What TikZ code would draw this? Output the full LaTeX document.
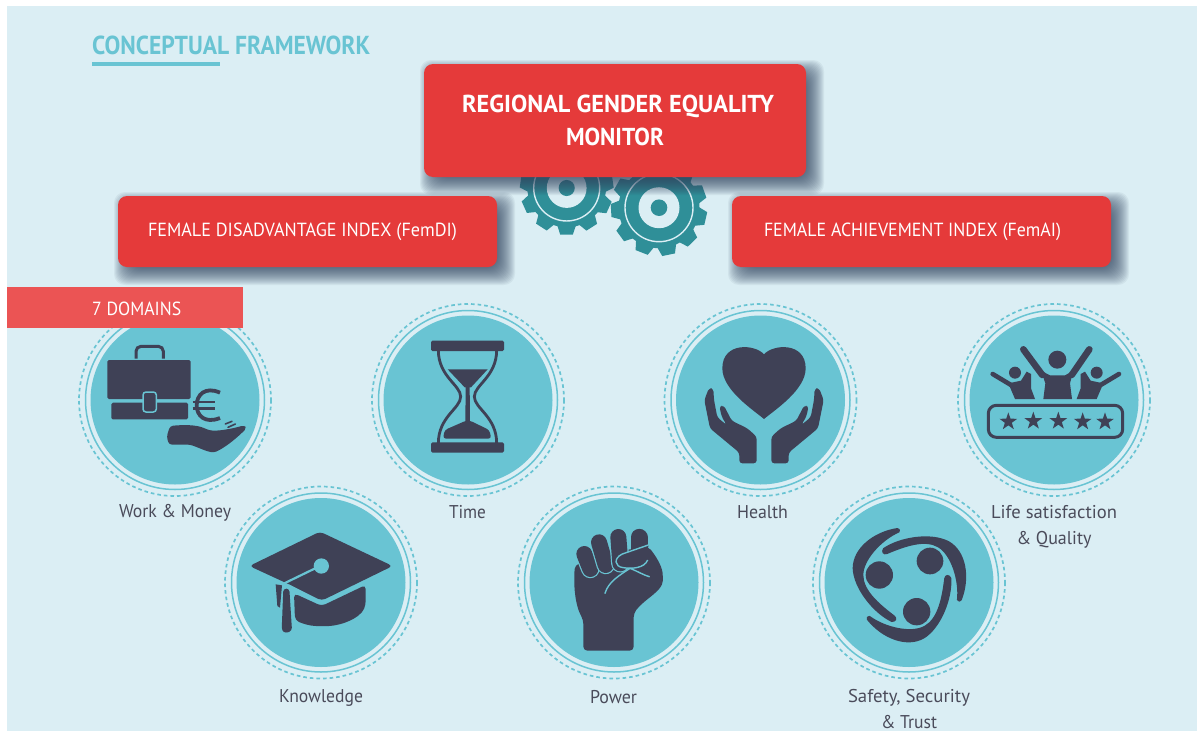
\documentclass[tikz,border=0pt]{standalone}
\usepackage{fontspec}
\usepackage{graphicx}
\setmainfont{PT Sans}
\usetikzlibrary{calc}
\definecolor{bgblue}{HTML}{DBEEF4}
\definecolor{teal1}{HTML}{69C4D3}
\definecolor{gearc}{HTML}{2F8F98}
\definecolor{redc}{HTML}{E53A3A}
\definecolor{redl}{HTML}{EB5454}
\definecolor{dark}{HTML}{3F4156}
\definecolor{labelc}{HTML}{4A4B5A}
\definecolor{shadowc}{HTML}{2E3F5C}
% fit a text line to a width given in px, keeping its height
\newcommand{\fitw}[2]{\setbox0=\hbox{#2}\pgfmathsetmacro{\fitr}{#1/\the\wd0}\scalebox{\fitr}[1]{\box0}}
\tikzset{
  redbox/.style={fill=redc,rounded corners=9pt,inner sep=0pt,text=white,align=center,font=\fontsize{19}{33}\selectfont},
  mainbox/.style={redbox,font=\fontsize{24.5}{33}\selectfont\bfseries},
  caption/.style={text=labelc,inner sep=0pt,align=center,font=\fontsize{18.5}{26}\selectfont},
  icon/.style={fill=dark,draw=none},
  ringdash/.style={draw=teal1,line width=1.7pt,dash pattern=on 3.6pt off 3pt},
  ringthin/.style={draw=teal1,line width=1.5pt},
  disc/.style={fill=teal1,draw=none},
  gearbody/.style={fill=gearc,draw=none}
}
\newcommand{\softshadow}[4]{%
  \foreach \d in {11,10,...,-6}{%
    \fill[shadowc,fill opacity=.062,rounded corners=11pt]
      ({#1+7-\d},{#2+7-\d}) rectangle ({#3+7+\d},{#4+7+\d});}}
\newcommand{\domaindisc}[2]{%
  \draw[ringdash] (#1,#2) circle[radius=96];
  \draw[ringthin] (#1,#2) circle[radius=89.5];
  \fill[disc] (#1,#2) circle[radius=84.5];}
\newcommand{\gearshape}[4]{% cx cy scale phase
  \begin{scope}[shift={(#1,#2)},scale=#3]
    \fill[gearbody] (0,0) circle[radius=40.5];
    \foreach \k in {0,...,10}{%
      \fill[gearbody,rotate=#4+\k*32.727] (39,-9.5) -- (48,-6.5) -- (48,6.5) -- (39,9.5) -- cycle;}
    \draw[draw=bgblue,line width=1.4pt] (0,0) circle[radius=34];
    \fill[bgblue] (0,0) circle[radius=20.5];
    \fill[gearbody] (0,0) circle[radius=8.3];
  \end{scope}}
% a finger: dark stroke with a teal edge, from #1 to #2
\newcommand{\fingerline}[2]{%
  \draw[teal1,line width=18.4pt,line cap=round] #1 -- #2;
  \draw[dark,line width=16pt,line cap=round] #1 -- #2;}
\begin{document}
\begin{tikzpicture}[x=1pt,y=-1pt]
\useasboundingbox (0,0) rectangle (1197,731);
\fill[white] (0,0) rectangle (1197,731);
\fill[bgblue] (7,6) rectangle (1197,731);

% title
\node[anchor=base west,inner sep=0pt,text=teal1,font=\fontsize{26}{30}\selectfont\bfseries] (title) at (92,54) {\fitw{278}{CONCEPTUAL FRAMEWORK}};
\coordinate (ruleA) at (92,64);
\coordinate (ruleB) at (220,64);
\draw[teal1,line width=3.6pt] (ruleA) -- (ruleB);

% gears
\gearshape{566.7}{188}{0.97}{8}
\gearshape{659}{207.7}{1}{-13}

% red boxes
\softshadow{424}{64}{806}{177}
\softshadow{118}{196}{497}{267}
\softshadow{732}{196}{1111}{267}
\node[mainbox,minimum width=382pt,minimum height=113pt] (main) at (615,120.5)
  {\raisebox{1pt}{\hspace*{6pt}\fitw{312}{REGIONAL GENDER EQUALITY}}\\\raisebox{1pt}{\fitw{98}{MONITOR}}};
\node[redbox,minimum width=379pt,minimum height=71pt] (femdi) at (307.5,231.5)
  {\hspace*{-10pt}\fitw{309}{FEMALE DISADVANTAGE INDEX (FemDI)}};
\node[redbox,minimum width=379pt,minimum height=71pt] (femai) at (921.5,231.5)
  {\hspace*{-18pt}\fitw{297}{FEMALE ACHIEVEMENT INDEX (FemAI)}};

% discs
\domaindisc{175}{400}
\domaindisc{321}{582.5}
\domaindisc{468}{400}
\domaindisc{614}{582.5}
\domaindisc{760.5}{400}
\domaindisc{909}{582.5}
\domaindisc{1054}{400}

% band
\node[fill=redl,inner sep=0pt,minimum width=236pt,minimum height=41pt,anchor=north west] (band) at (7,287) {};
\node[anchor=west,inner sep=0pt,text=white,font=\fontsize{19}{22}\selectfont] (bandtext) at (92,308.5) {\fitw{89}{7 DOMAINS}};

% Work & Money icon
\begin{scope}[shift={(70,300)},scale=1/3]
  \draw[dark,line width=3pt,rounded corners=5pt] (198,176) -- (198,139) -- (280,139) -- (280,176);
  \fill[icon,rounded corners=1.5pt] (112,180) rectangle (362,297);
  \fill[icon,rounded corners=1.5pt] (124,308) rectangle (354,358);
  \draw[fill=dark,draw=teal1,line width=1.5pt,rounded corners=3pt] (219,276) rectangle (259,336);
  \draw[dark,line width=3.8pt] (450,278) .. controls (405,258) and (380,285) .. (380,316)
    .. controls (380,347) and (405,372) .. (450,354);
  \draw[dark,line width=2.6pt] (368,306) -- (436,306) (368,326) -- (436,326);
  \fill[icon,rounded corners=3pt] (300,378) .. controls (340,374) and (380,374) .. (410,388)
    .. controls (440,396) and (490,385) .. (522,376) -- (530,384)
    .. controls (505,410) and (470,440) .. (432,458)
    .. controls (400,452) and (370,434) .. (345,434) -- (297,434) -- (290,410) -- cycle;
  \draw[dark,line width=1.6pt,line cap=round] (466,372) -- (486,364) (474,382) -- (496,372);
\end{scope}

% Knowledge icon
\begin{scope}[shift={(220,480)},scale=1/3]
  \fill[icon,rounded corners=4pt] (222,340) -- (305,378) -- (437,315) -- (437,375)
    .. controls (420,415) and (360,440) .. (300,438) .. controls (270,438) and (245,430) .. (225,420) -- cycle;
  \fill[icon,rounded corners=4pt] (88,258) -- (300,155) -- (518,258) -- (305,362) -- (205,312) -- (192,306) -- cycle;
  \draw[teal1,line width=2.2pt] (193,310) -- (300,258);
  \fill[teal1] (304,258) circle[radius=23];
  \draw[teal1,line width=1.5pt] (205,315) -- (300,366) -- (310,366) -- (440,305);
  \fill[icon,rounded corners=3pt] (190,326) -- (208,326) -- (216,452) -- (198,460) -- (185,452) -- cycle;
  \fill[icon] (167,313) -- (186,316) -- (180,383) -- (172,378) -- cycle;
\end{scope}

% Time icon
\begin{scope}[shift={(370,300)},scale=1/3]
  \fill[icon,rounded corners=1.5pt] (183,122) rectangle (402,153);
  \fill[icon,rounded corners=1.5pt] (183,427) rectangle (402,458);
  \draw[dark,line width=2.8pt] (205,150) .. controls (205,230) and (272,255) .. (272,290)
    .. controls (272,325) and (205,350) .. (205,430);
  \draw[dark,line width=2.8pt] (380,150) .. controls (380,230) and (313,255) .. (313,290)
    .. controls (313,325) and (380,350) .. (380,430);
  \fill[icon] (233,208) -- (353,208) -- (303,262) -- (284,262) -- cycle;
  \fill[icon] (287,260) -- (299,260) -- (300,370) -- (286,370) -- cycle;
  \fill[icon,rounded corners=3pt] (219,416) -- (224,390) -- (288,362) -- (300,362) -- (358,390) -- (364,416) -- cycle;
\end{scope}

% Power icon
\begin{scope}[shift={(515,485)},scale=1/3]
  \fill[icon,rounded corners=4pt] (180,240) .. controls (175,300) and (180,360) .. (205,405)
    -- (205,497) -- (356,497) -- (356,385) .. controls (390,340) and (442,320) .. (444,275)
    .. controls (440,240) and (420,210) .. (400,185) -- (300,200) -- cycle;
  \fingerline{(208,207)}{(226,252)}
  \fingerline{(252,172)}{(272,240)}
  \fingerline{(310,156)}{(316,235)}
  \draw[dark,line width=17pt,line cap=round] (372,157) -- (372,195);
  \draw[icon,draw=teal1,line width=1.4pt] (400,180) -- (322,207)
    .. controls (295,220) and (298,245) .. (325,248)
    .. controls (350,252) and (388,250) .. (398,225);
  \draw[teal1,line width=1.4pt,line cap=round] (270,325) .. controls (280,290) and (315,270) .. (345,250);
  \draw[teal1,line width=1.4pt,line cap=round] (345,250) .. controls (370,260) and (385,270) .. (403,275);
\end{scope}

% Health icon
\begin{scope}[shift={(660,300)},scale=1/3]
  \fill[icon] (312,163) .. controls (285,132) and (187,125) .. (187,205)
    .. controls (187,270) and (280,330) .. (312,357)
    .. controls (344,330) and (437,270) .. (437,205)
    .. controls (437,125) and (339,132) .. (312,163) -- cycle;
  \foreach \mirror/\xoff in {1/0,-1/624}{%
    \begin{scope}[shift={(\xoff,0)},xscale=\mirror]
      \fill[icon,rounded corners=3pt] (147,264) -- (133,300) -- (150,385) -- (238,458) -- (238,490)
        -- (290,490) -- (290,410) -- (262,385) -- (215,362) -- (192,317) -- (178,318)
        -- (185,350) -- (200,375) -- (172,352) -- (162,300) -- (160,266) -- cycle;
    \end{scope}}
\end{scope}

% Safety icon
\begin{scope}[shift={(810,485)},scale=1/3]
  \foreach \ang in {0,-120,120}{%
    \begin{scope}[rotate around={\ang:(296,293)}]
      \fill[icon] (262,129) .. controls (190,140) and (128,190) .. (128,250)
        .. controls (130,310) and (190,385) .. (245,411)
        .. controls (258,412) and (264,400) .. (254,392)
        .. controls (205,355) and (160,315) .. (160,270)
        .. controls (160,225) and (215,165) .. (268,142)
        .. controls (272,134) and (268,128) .. (262,129) -- cycle;
    \end{scope}}
  \fill[icon] (208,270) circle[radius=41];
  \fill[icon] (360,228) circle[radius=40];
  \fill[icon] (320,380) circle[radius=41];
\end{scope}

% Life satisfaction icon
\begin{scope}[shift={(955,300)},scale=1/3]
  \draw[dark,line width=3pt,rounded corners=8pt] (100,316) rectangle (503,412);
  \foreach \sx/\sy in {160/365,235/363,310/363,383/365,450/365}{%
    \fill[icon,shift={(\sx,\sy)}] (270:28) -- (306:11) -- (342:28) -- (18:11) -- (54:28) -- (90:11) -- (126:28) -- (162:11) -- (198:28) -- (234:11) -- cycle;}
  \fill[icon] (307,179) circle[radius=27];
  \draw[dark,line width=6.6pt,line cap=round] (205,148) -- (262,225);
  \draw[dark,line width=6.6pt,line cap=round] (403,148) -- (350,225);
  \fill[icon] (258,212) -- (285,226) -- (330,226) -- (355,212) -- (345,250) -- (351,297) -- (265,297) -- (271,250) -- cycle;
  \foreach \mirror/\xoff in {1/0,-1/605}{%
    \begin{scope}[shift={(\xoff,0)},xscale=\mirror]
      \fill[icon] (180,218) circle[radius=18];
      \draw[dark,line width=4.6pt,line cap=round] (113,222) -- (168,255);
      \fill[icon] (160,250) -- (198,242) -- (215,215) -- (228,222) -- (228,265) -- (240,297) -- (180,297) -- cycle;
    \end{scope}}
\end{scope}

% captions
\node[caption] (lwork) at (175,512.5) {\fitw{112}{Work \& Money}};
\node[caption] (ltime) at (467.5,512) {\fitw{37}{Time}};
\node[caption] (lhealth) at (762.5,512) {\fitw{51}{Health}};
\node[caption] (llife) at (1054,527) {\fitw{126}{Life satisfaction}\\\fitw{75}{\& Quality}};
\node[caption] (lknow) at (321,698) {\fitw{84}{Knowledge}};
\node[caption] (lpower) at (613.5,697) {\fitw{47}{Power}};
\node[caption] (lsafe) at (909,709) {\fitw{122}{Safety, Security}\\\fitw{56}{\& Trust}};
\end{tikzpicture}
\end{document}
